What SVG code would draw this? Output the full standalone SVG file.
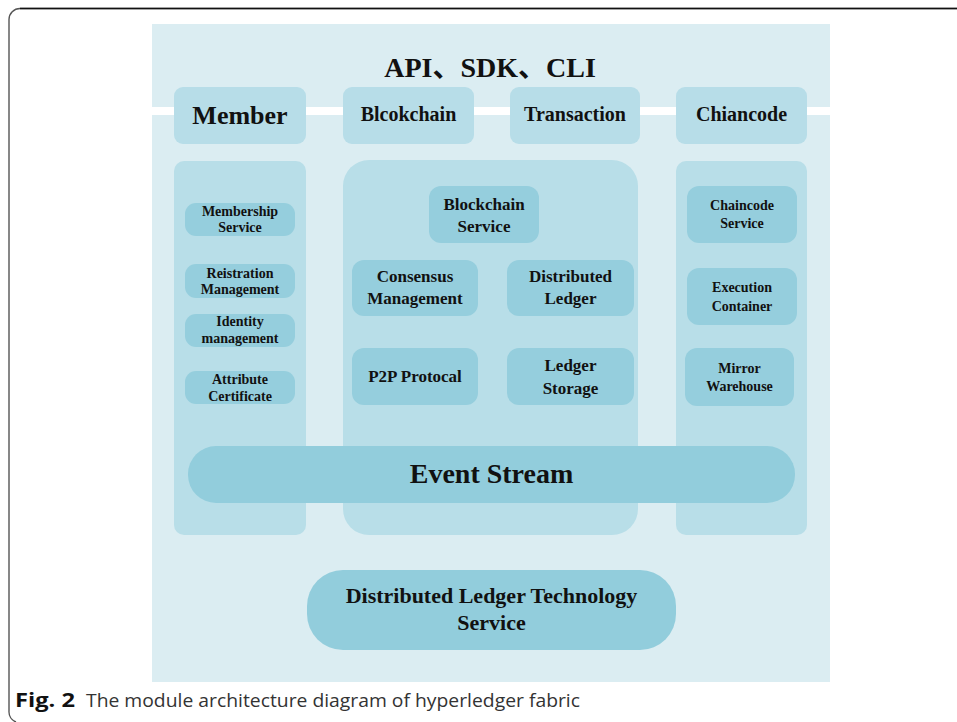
<svg xmlns="http://www.w3.org/2000/svg" width="957" height="722" viewBox="0 0 957 722">
  <style>
    .panel { fill: #dbedf2; }
    .col { fill: #b8dee8; }
    .head { fill: #b7dde8; }
    .item { fill: #95cedd; }
    .pill { fill: #92cddc; }
    text { font-family: "Liberation Serif", "Noto Sans CJK SC", serif; font-weight: bold; fill: #111; text-anchor: middle; }
    .t13 { font-size: 14px; }
    .t17 { font-size: 17px; }
    .cap { font-family: "Open Sans", "Noto Sans", sans-serif; text-anchor: start; font-size: 19px; fill: #222; }
  </style>

  <!-- figure frame -->
  <path d="M957,8.5 H20 A11,11 0 0 0 9,19.5 V711 A11,11 0 0 0 16,722" fill="none" stroke="#555" stroke-width="1.4"/>
  <line x1="20" y1="8.5" x2="957" y2="8.5" stroke="#111" stroke-width="1.6"/>

  <!-- background panel with white band -->
  <rect class="panel" x="152" y="24" width="678" height="658"/>
  <rect x="152" y="107" width="678" height="8" fill="#ffffff"/>

  <g id="api-layer">
    <text x="490" y="77" style="font-size:28px">API、SDK、CLI</text>
  </g>

  <g id="member">
    <rect class="head" x="174" y="87" width="132" height="57" rx="9"/>
    <text x="240" y="124" style="font-size:26px">Member</text>
  </g>
  <g id="blockchain">
    <rect class="head" x="343" y="87" width="131" height="57" rx="9"/>
    <text x="408.5" y="121" style="font-size:20px">Blcokchain</text>
  </g>
  <g id="transaction">
    <rect class="head" x="510" y="87" width="130" height="57" rx="9"/>
    <text x="575" y="121" style="font-size:20px">Transaction</text>
  </g>
  <g id="chaincode">
    <rect class="head" x="676" y="87" width="131" height="57" rx="9"/>
    <text x="741.5" y="121" style="font-size:20px">Chiancode</text>
  </g>

  <!-- module columns -->
  <g id="member-column">
    <rect class="col" x="174" y="161" width="132" height="374" rx="10"/>
  </g>
  <g id="blockchain-column">
    <rect class="col" x="343" y="160" width="295" height="375" rx="26"/>
  </g>
  <g id="chaincode-column">
    <rect class="col" x="676" y="161" width="131" height="374" rx="10"/>
  </g>

  <!-- member items -->
  <g id="membership-service">
    <rect class="item" x="185" y="203" width="110" height="33" rx="11"/>
    <text class="t13" x="240" y="216">Membership</text>
    <text class="t13" x="240" y="232">Service</text>
  </g>
  <g id="registration-management">
    <rect class="item" x="185" y="264" width="110" height="34" rx="11"/>
    <text class="t13" x="240" y="278">Reistration</text>
    <text class="t13" x="240" y="294">Management</text>
  </g>
  <g id="identity-management">
    <rect class="item" x="185" y="314" width="110" height="33" rx="11"/>
    <text class="t13" x="240" y="326">Identity</text>
    <text class="t13" x="240" y="343">management</text>
  </g>
  <g id="attribute-certificate">
    <rect class="item" x="185" y="371" width="110" height="33" rx="11"/>
    <text class="t13" x="240" y="384">Attribute</text>
    <text class="t13" x="240" y="401">Certificate</text>
  </g>

  <!-- blockchain items -->
  <g id="blockchain-service">
    <rect class="item" x="429" y="186" width="110" height="57" rx="12"/>
    <text class="t17" x="484" y="210">Blockchain</text>
    <text class="t17" x="484" y="232">Service</text>
  </g>
  <g id="consensus-management">
    <rect class="item" x="352" y="260" width="126" height="56" rx="12"/>
    <text class="t17" x="415" y="282">Consensus</text>
    <text class="t17" x="415" y="304">Management</text>
  </g>
  <g id="distributed-ledger">
    <rect class="item" x="507" y="260" width="127" height="56" rx="12"/>
    <text class="t17" x="570.5" y="282">Distributed</text>
    <text class="t17" x="570.5" y="304">Ledger</text>
  </g>
  <g id="p2p-protocol">
    <rect class="item" x="352" y="348" width="126" height="57" rx="12"/>
    <text class="t17" x="415" y="382">P2P Protocal</text>
  </g>
  <g id="ledger-storage">
    <rect class="item" x="507" y="348" width="127" height="57" rx="12"/>
    <text class="t17" x="570.5" y="371">Ledger</text>
    <text class="t17" x="570.5" y="394">Storage</text>
  </g>

  <!-- chaincode items -->
  <g id="chaincode-service">
    <rect class="item" x="687" y="186" width="110" height="57" rx="12"/>
    <text class="t13" x="742" y="210">Chaincode</text>
    <text class="t13" x="742" y="228">Service</text>
  </g>
  <g id="execution-container">
    <rect class="item" x="687" y="268" width="110" height="57" rx="12"/>
    <text class="t13" x="742" y="292">Execution</text>
    <text class="t13" x="742" y="311">Container</text>
  </g>
  <g id="mirror-warehouse">
    <rect class="item" x="685" y="348" width="109" height="58" rx="12"/>
    <text class="t13" x="739.5" y="373">Mirror</text>
    <text class="t13" x="739.5" y="391">Warehouse</text>
  </g>

  <g id="event-stream">
    <rect class="pill" x="188" y="446" width="607" height="57" rx="28"/>
    <text x="491.5" y="483" style="font-size:28px">Event Stream</text>
  </g>

  <g id="dlt-service">
    <rect class="pill" x="307" y="570" width="369" height="80" rx="36"/>
    <text x="491.5" y="603" style="font-size:22px">Distributed Ledger Technology</text>
    <text x="491.5" y="630" style="font-size:22px">Service</text>
  </g>

  <!-- caption -->
  <text class="cap" y="707"><tspan x="15" font-weight="bold" fill="#111" textLength="60" lengthAdjust="spacingAndGlyphs">Fig. 2</tspan><tspan x="86" font-weight="normal" fill="#333" textLength="494" lengthAdjust="spacingAndGlyphs">The module architecture diagram of hyperledger fabric</tspan></text>
</svg>
